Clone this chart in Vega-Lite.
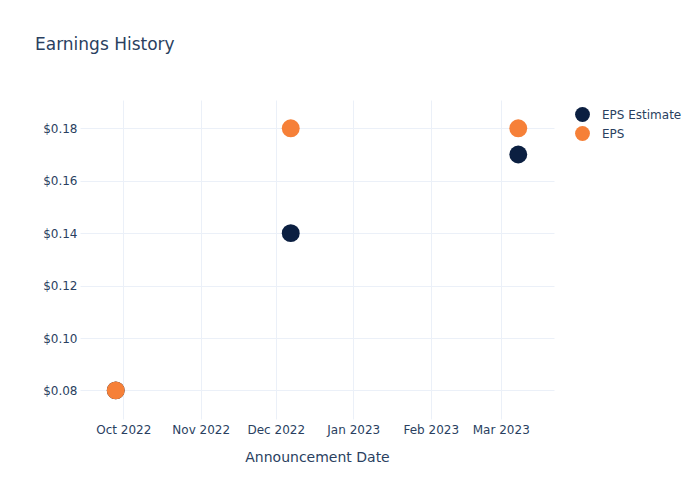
{
  "$schema": "https://vega.github.io/schema/vega-lite/v6.json",
  "autosize": "none",
  "width": 474,
  "height": 319,
  "padding": {"left": 80, "top": 100, "right": 146, "bottom": 81},
  "background": "white",
  "config": {
    "font": "DejaVu Sans",
    "view": {"stroke": null},
    "axis": {"labelColor": "#2a3f5f", "titleColor": "#2a3f5f", "gridColor": "#ebf0f8", "gridWidth": 1, "domain": false, "ticks": false, "labelFontSize": 12, "labelFont": "DejaVu Sans", "titleFont": "DejaVu Sans"}
  },
  "title": {"text": "Earnings History", "anchor": "start", "frame": "group", "dx": -45, "offset": 46, "fontSize": 17, "fontWeight": "normal", "color": "#2a3f5f", "font": "DejaVu Sans"},
  "data": {"values": [
    {"date": "2022-09-28", "series": "EPS Estimate", "value": 0.08},
    {"date": "2022-12-07", "series": "EPS Estimate", "value": 0.14},
    {"date": "2023-03-08", "series": "EPS Estimate", "value": 0.17},
    {"date": "2022-09-28", "series": "EPS", "value": 0.08},
    {"date": "2022-12-07", "series": "EPS", "value": 0.18},
    {"date": "2023-03-08", "series": "EPS", "value": 0.18}
  ]},
  "mark": {"type": "point", "filled": true, "opacity": 1, "size": 320, "shape": "circle"},
  "encoding": {
    "x": {"field": "date", "type": "temporal",
      "scale": {"type": "utc", "domain": [{"year": 2022, "month": 9, "date": 13, "hours": 17, "utc": true}, {"year": 2023, "month": 3, "date": 22, "hours": 7, "utc": true}]},
      "axis": {"title": "Announcement Date", "titleFontSize": 14, "titleFontWeight": "normal", "titlePadding": 15, "labelPadding": 5, "format": "%b %Y",
        "values": [{"year": 2022, "month": 10, "date": 1, "utc": true}, {"year": 2022, "month": 11, "date": 1, "utc": true}, {"year": 2022, "month": 12, "date": 1, "utc": true}, {"year": 2023, "month": 1, "date": 1, "utc": true}, {"year": 2023, "month": 2, "date": 1, "utc": true}, {"year": 2023, "month": 3, "date": 1, "utc": true}]}},
    "y": {"field": "value", "type": "quantitative",
      "scale": {"domain": [0.0691, 0.1908], "nice": false, "zero": false},
      "axis": {"title": null, "format": "$.2f", "values": [0.08, 0.10, 0.12, 0.14, 0.16, 0.18], "labelPadding": 3}},
    "color": {"field": "series", "type": "nominal",
      "scale": {"domain": ["EPS Estimate", "EPS"], "range": ["#0b1f41", "#f68038"]},
      "legend": {"title": null, "orient": "none", "legendX": 495, "legendY": 7, "padding": 0, "symbolSize": 220, "symbolType": "circle", "labelFontSize": 12, "labelColor": "#2a3f5f", "labelOffset": 12, "rowPadding": 4, "labelFont": "DejaVu Sans", "symbolStrokeWidth": 0}},
    "order": {"field": "series", "sort": "descending"}
  }
}
